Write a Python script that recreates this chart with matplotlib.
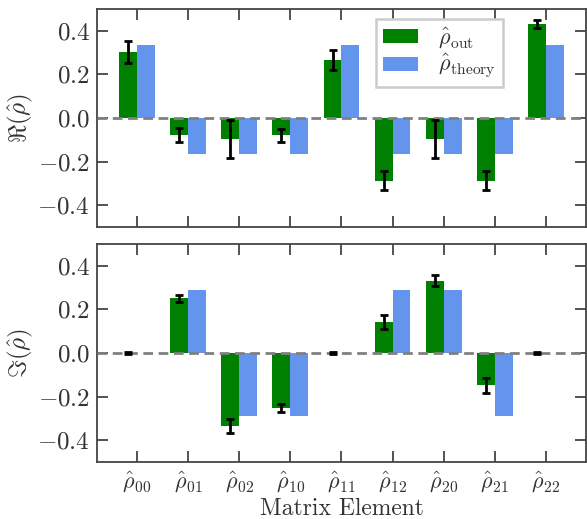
import numpy as np
import matplotlib
matplotlib.use("Agg")
import matplotlib.pyplot as plt

plt.rcParams['font.family'] = 'serif'
plt.rcParams['font.serif'] = ['cmr10']
plt.rcParams['mathtext.fontset'] = 'cm'
plt.rcParams['axes.formatter.use_mathtext'] = True
plt.rcParams['axes.unicode_minus'] = True

labels = [r'$\hat{\rho}_{00}$', r'$\hat{\rho}_{01}$', r'$\hat{\rho}_{02}$',
          r'$\hat{\rho}_{10}$', r'$\hat{\rho}_{11}$', r'$\hat{\rho}_{12}$',
          r'$\hat{\rho}_{20}$', r'$\hat{\rho}_{21}$', r'$\hat{\rho}_{22}$']

re_out = [0.303, -0.080, -0.095, -0.080, 0.265, -0.288, -0.095, -0.288, 0.431]
re_err = [0.050, 0.032, 0.087, 0.030, 0.047, 0.044, 0.087, 0.044, 0.020]
re_theory = [1/3, -1/6, -1/6, -1/6, 1/3, -1/6, -1/6, -1/6, 1/3]

im_out = [0.0, 0.250, -0.336, -0.253, 0.0, 0.142, 0.332, -0.148, 0.0]
im_err = [0.003, 0.018, 0.032, 0.018, 0.003, 0.032, 0.027, 0.035, 0.003]
im_theory = [0.0, 0.2887, -0.2887, -0.2887, 0.0, 0.2887, 0.2887, -0.2887, 0.0]

text_color = '#333333'
spine_color = '#444444'

fig = plt.figure(figsize=(5.87, 5.19), dpi=100)
ax1 = fig.add_axes([0.1652, 0.5626, 0.833, 0.4201])
ax2 = fig.add_axes([0.1652, 0.1098, 0.833, 0.4201])

x = np.arange(len(labels))
w = 0.35

for ax, out, err, th, ylab in [(ax1, re_out, re_err, re_theory, r'$\Re(\hat{\rho})$'),
                               (ax2, im_out, im_err, im_theory, r'$\Im(\hat{\rho})$')]:
    ax.bar(x - w/2, out, w, color='green', label=r'$\hat{\rho}_{\rm out}$', zorder=2)
    ax.bar(x + w/2, th, w, color='cornflowerblue', label=r'$\hat{\rho}_{\rm theory}$', zorder=2)
    ax.errorbar(x - w/2, out, yerr=err, fmt='none', ecolor='black', elinewidth=2,
                capsize=3.0, capthick=2, zorder=4)
    ax.axhline(0, color='gray', linestyle=(0, (3.5, 2)), linewidth=2, zorder=3)
    ax.set_ylim(-0.5, 0.5)
    ax.set_yticks([-0.4, -0.2, 0.0, 0.2, 0.4])
    ax.set_xticks(x)
    ax.set_ylabel(ylab, fontsize=18, color=text_color, labelpad=2)
    ax.tick_params(direction='in', length=8, width=1.3, top=True, right=True,
                   colors=spine_color, labelcolor=text_color, labelsize=18, pad=5)
    for s in ax.spines.values():
        s.set_color(spine_color)
        s.set_linewidth(1.3)

ax1.set_xticklabels([])
ax2.set_xticklabels(labels)
ax2.tick_params(axis='x', pad=5, labelsize=16)
ax2.set_xlabel('Matrix Element', fontsize=17, color=text_color)
ax2.xaxis.set_label_coords(0.5, -0.163)

leg = ax1.legend(loc='upper center', bbox_to_anchor=(0.70, 0.997), fontsize=16,
                 fancybox=False, framealpha=1, edgecolor='#cccccc',
                 handlelength=1.6, handleheight=0.6, borderpad=0.3,
                 labelspacing=0.1, handletextpad=0.9, borderaxespad=0.4)
leg.get_frame().set_linewidth(1.8)
for t in leg.get_texts():
    t.set_color(text_color)

fig.savefig('out.png', dpi=100)
